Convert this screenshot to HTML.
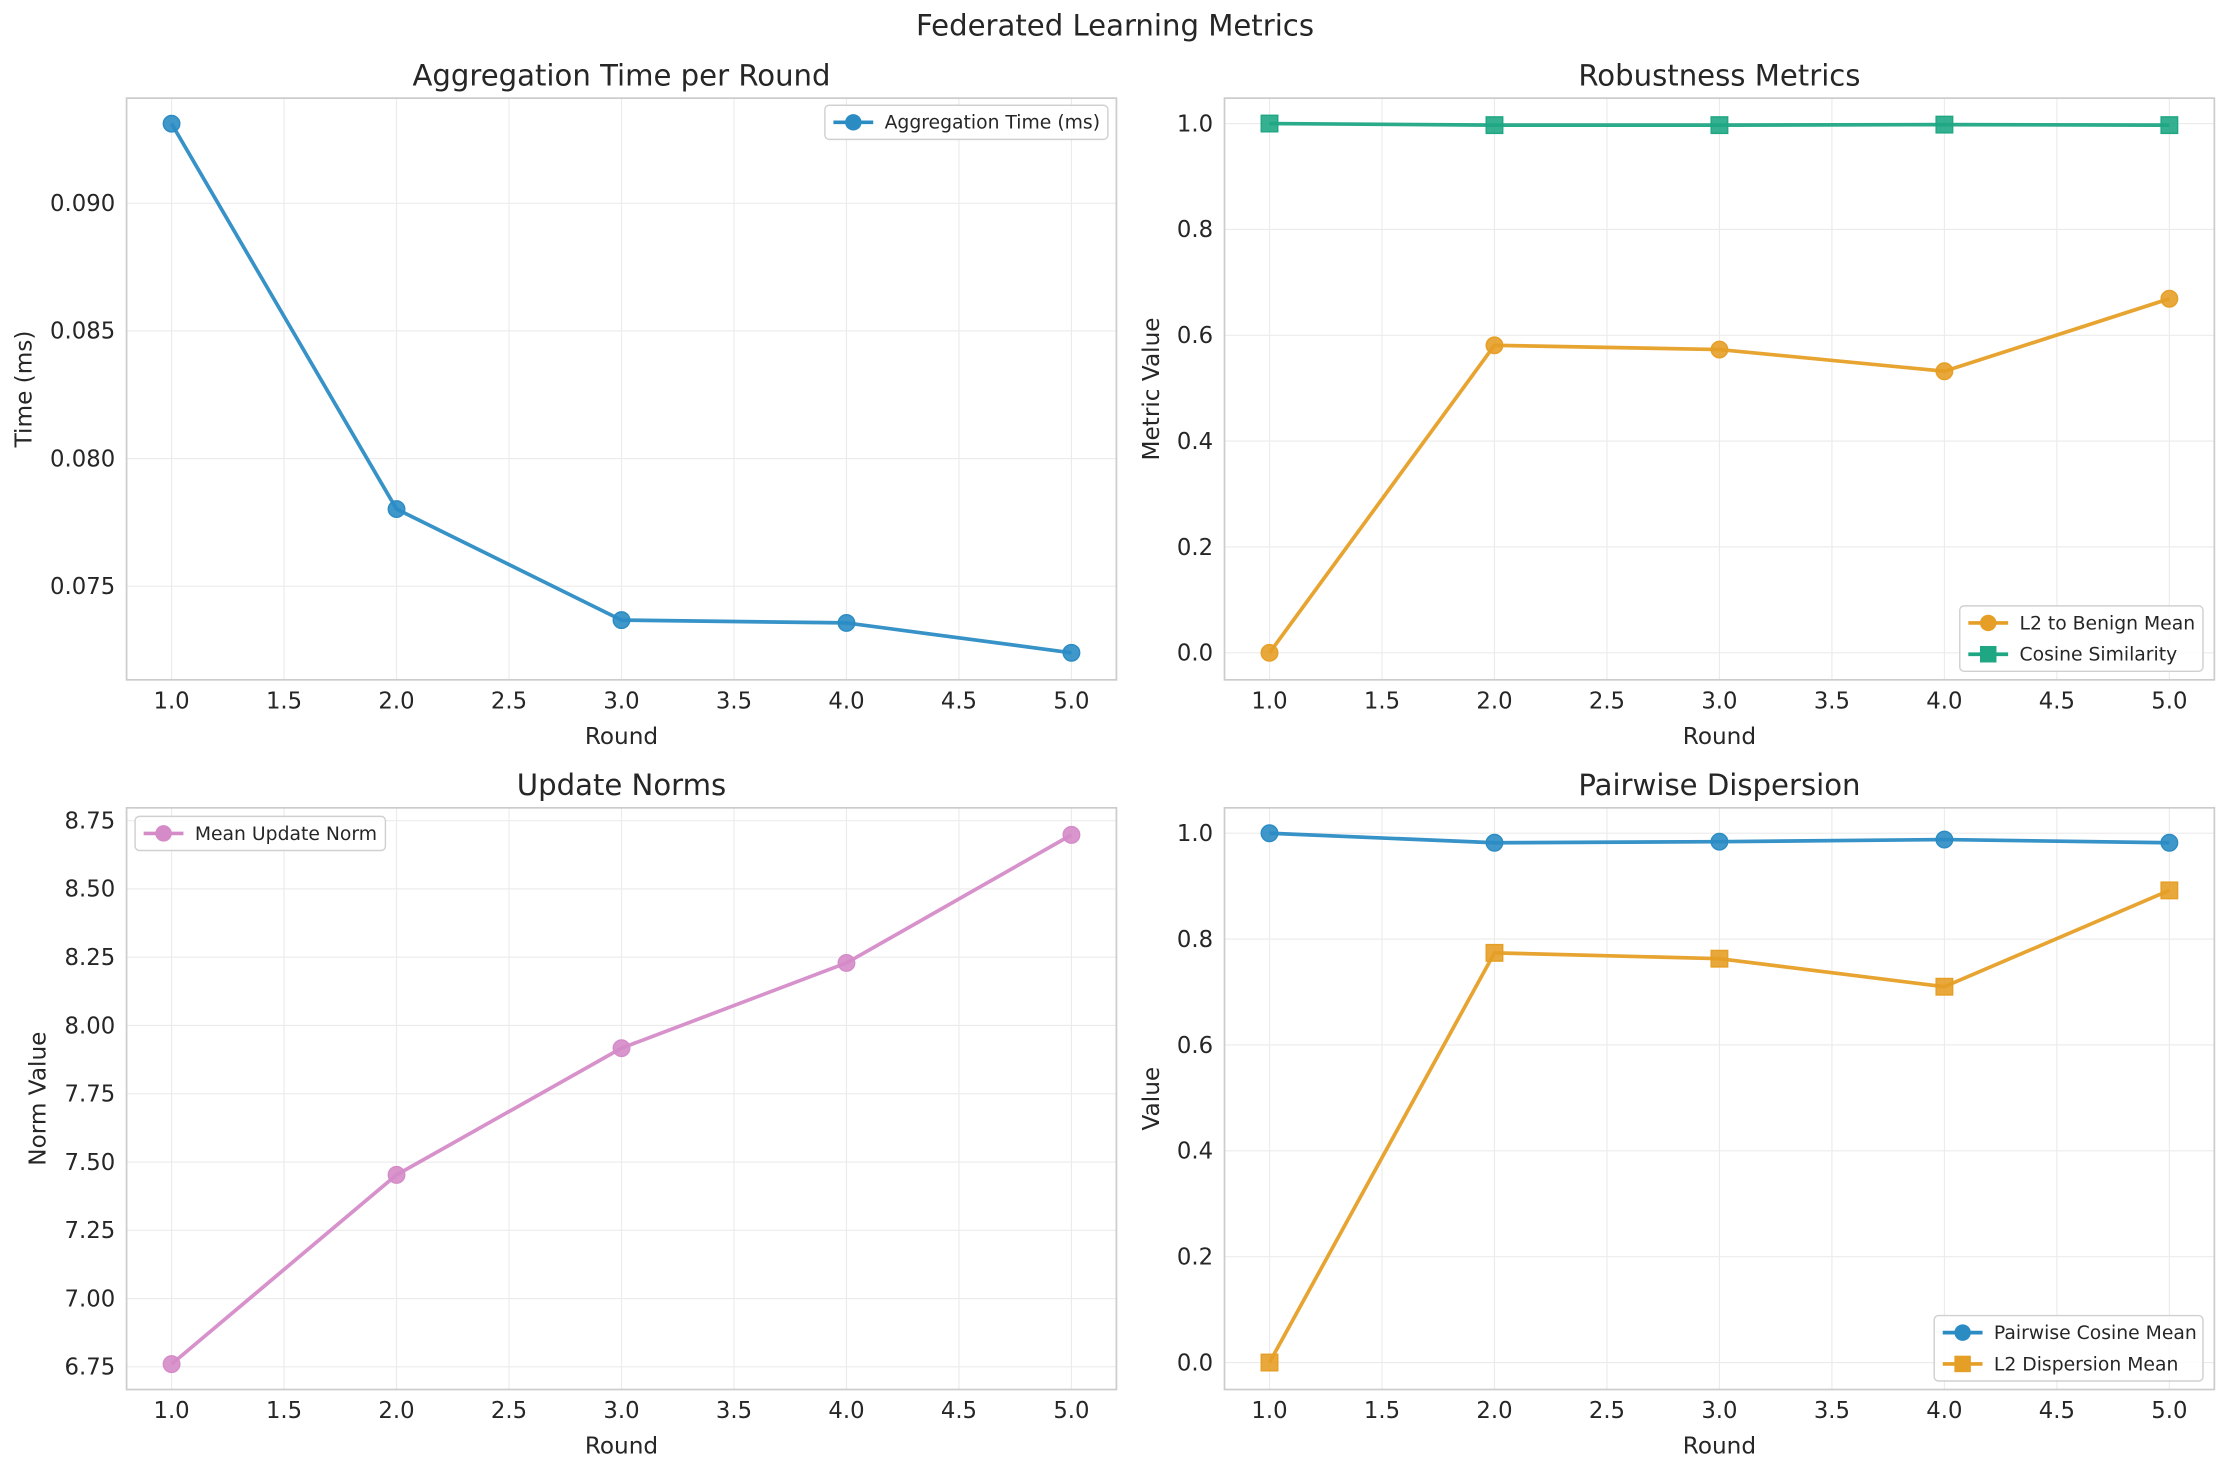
<!DOCTYPE html>
<html><head><meta charset="utf-8"><style>
html,body{margin:0;padding:0;background:#fff}
svg{display:block;font-family:"DejaVu Sans","Liberation Sans",sans-serif}
</style></head><body>
<svg id="fig" width="2230" height="1475" viewBox="0 0 1568 1037.1" preserveAspectRatio="none" xmlns="http://www.w3.org/2000/svg">
<rect width="1568" height="1037.1" fill="#fff"/>
<text x="784" y="25" text-anchor="middle" font-size="20.5" fill="#262626">Federated Learning Metrics</text>
</svg>
<script>
const rounds = [1, 2, 3, 4, 5];
const aggTime = [0.09312, 0.07802, 0.07367, 0.07356, 0.07239];
const l2Benign = [0.0, 0.581, 0.573, 0.532, 0.669];
const cosSim = [1.0, 0.997, 0.997, 0.998, 0.997];
const updateNorm = [6.76, 7.453, 7.917, 8.229, 8.698];
const pairCos = [1.0, 0.982, 0.984, 0.988, 0.982];
const l2Disp = [0.0, 0.774, 0.763, 0.71, 0.892];
const xTicks = [1.0, 1.5, 2.0, 2.5, 3.0, 3.5, 4.0, 4.5, 5.0];
const yTicksAgg = [0.075, 0.080, 0.085, 0.090];
const yTicks01 = [0.0, 0.2, 0.4, 0.6, 0.8, 1.0];
const yTicksNorm = [6.75, 7.00, 7.25, 7.50, 7.75, 8.00, 8.25, 8.50, 8.75];

const NS = "http://www.w3.org/2000/svg";
const svg = document.getElementById('fig');
function mk(tag, attrs, parent) {
  const e = document.createElementNS(NS, tag);
  for (const k in attrs) e.setAttribute(k, attrs[k]);
  (parent || svg).appendChild(e);
  return e;
}
const BLUE = '#2b8cc4', ORANGE = '#e69f26', GREEN = '#1fa784', PINK = '#d58bc8';

function panel(cfg) {
  const g = mk('g', {});
  
  
  const L = cfg.box[0], T = cfg.box[1], R = cfg.box[2], B = cfg.box[3];
  const xs = v => L + (v - 0.8) / (5.2 - 0.8) * (R - L);
  const ys = v => B - (v - cfg.ylim[0]) / (cfg.ylim[1] - cfg.ylim[0]) * (B - T);
  xTicks.forEach(t => {
    const gl = mk('line', {x1: xs(t), x2: xs(t), y1: T, y2: B, stroke: '#ebebeb', 'stroke-width': 0.8}, g);
    
    
    const tl = mk('text', {x: xs(t), y: B + 20, 'text-anchor': 'middle', 'font-size': 16, fill: '#262626'}, g);
    tl.textContent = t.toFixed(1);
    
    
  });
  cfg.yticks.forEach(t => {
    const gl = mk('line', {x1: L, x2: R, y1: ys(t), y2: ys(t), stroke: '#ebebeb', 'stroke-width': 0.8}, g);
    
    
    const tl = mk('text', {x: L - 8, y: ys(t) + 5.5, 'text-anchor': 'end', 'font-size': 16, fill: '#262626'}, g);
    tl.textContent = t.toFixed(cfg.dec);
    
    
  });
  const fr = mk('rect', {x: L, y: T, width: R - L, height: B - T, fill: 'none', stroke: '#cccccc', 'stroke-width': 1.2}, g);
  
  
  const ti = mk('text', {x: (L + R) / 2, y: T - 9, 'text-anchor': 'middle', 'font-size': 20.5, fill: '#262626'}, g);
  ti.textContent = cfg.title;
  
  
  const xl = mk('text', {x: (L + R) / 2, y: B + 45, 'text-anchor': 'middle', 'font-size': 16.3, fill: '#262626'}, g);
  xl.textContent = 'Round';
  
  
  const yl = mk('text', {x: 0, y: 0, 'text-anchor': 'middle', 'font-size': 16.3, fill: '#262626', transform: `translate(${cfg.ylx},${(T + B) / 2}) rotate(-90)`}, g);
  yl.textContent = cfg.ylabel;
  
  
  cfg.series.forEach(s => {
    const pts = rounds.map((r, i) => xs(r) + ',' + ys(s.data[i])).join(' ');
    const pl = mk('polyline', {points: pts, fill: 'none', stroke: s.color, 'stroke-width': 2.6, 'stroke-opacity': 0.95, 'stroke-linejoin': 'round'}, g);
    
    
    rounds.forEach((r, i) => {
      let m;
      if (s.marker === 'o') m = mk('circle', {cx: xs(r), cy: ys(s.data[i]), r: 5.8, fill: s.color, 'fill-opacity': 0.9, stroke: s.color}, g);
      else m = mk('rect', {x: xs(r) - 5.8, y: ys(s.data[i]) - 5.8, width: 11.6, height: 11.6, fill: s.color, 'fill-opacity': 0.9, stroke: s.color}, g);
      
      
    });
  });
  const lb = cfg.legend;
  const lg = mk('g', {}, g);
  
  
  mk('rect', {x: lb[0], y: lb[1], width: lb[2], height: 24 + (cfg.series.length - 1) * 22, rx: 3, fill: '#fff', 'fill-opacity': 0.85, stroke: '#d0d0d0'}, lg);
  cfg.series.forEach((s, i) => {
    const cy = lb[1] + 12 + i * 22;
    const ln = mk('line', {x1: lb[0] + 6, x2: lb[0] + 34, y1: cy, y2: cy, stroke: s.color, 'stroke-width': 2.6}, lg);
    
    
    if (s.marker === 'o') mk('circle', {cx: lb[0] + 20, cy: cy, r: 5.8, fill: s.color}, lg);
    else mk('rect', {x: lb[0] + 14.2, y: cy - 5.8, width: 11.6, height: 11.6, fill: s.color}, lg);
    const t = mk('text', {x: lb[0] + 42, y: cy + 4.5, 'font-size': 13.2, fill: '#262626'}, lg);
    t.textContent = s.label;
    
    
  });
}

panel({name: 'aggregation-time-panel', box: [89, 69, 785, 478], ylim: [0.07133, 0.09412], yticks: yTicksAgg, dec: 3,
  title: 'Aggregation Time per Round', ylabel: 'Time (ms)', ylx: 22, legend: [580, 74, 199],
  series: [{data: aggTime, color: BLUE, marker: 'o', label: 'Aggregation Time (ms)'}]});
panel({name: 'robustness-panel', box: [861, 69, 1557, 478], ylim: [-0.051, 1.048], yticks: yTicks01, dec: 1,
  title: 'Robustness Metrics', ylabel: 'Metric Value', ylx: 815, legend: [1378, 426, 171],
  series: [{data: l2Benign, color: ORANGE, marker: 'o', label: 'L2 to Benign Mean'},
           {data: cosSim, color: GREEN, marker: 's', label: 'Cosine Similarity'}]});
panel({name: 'update-norms-panel', box: [89, 568, 785, 977], ylim: [6.667, 8.797], yticks: yTicksNorm, dec: 2,
  title: 'Update Norms', ylabel: 'Norm Value', ylx: 32, legend: [95, 574, 176],
  series: [{data: updateNorm, color: PINK, marker: 'o', label: 'Mean Update Norm'}]});
panel({name: 'pairwise-dispersion-panel', box: [861, 568, 1557, 977], ylim: [-0.051, 1.048], yticks: yTicks01, dec: 1,
  title: 'Pairwise Dispersion', ylabel: 'Value', ylx: 815, legend: [1360, 925, 189],
  series: [{data: pairCos, color: BLUE, marker: 'o', label: 'Pairwise Cosine Mean'},
           {data: l2Disp, color: ORANGE, marker: 's', label: 'L2 Dispersion Mean'}]});
</script>
</body></html>
